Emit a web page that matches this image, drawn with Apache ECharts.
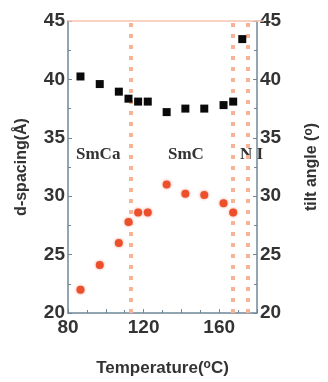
<!DOCTYPE html>
<html>
<head>
<meta charset="utf-8">
<script src="https://cdn.jsdelivr.net/npm/echarts@6/dist/echarts.min.js"></script>
<style>
  html, body { margin: 0; padding: 0; background: #fff; }
  #chart { width: 328px; height: 382px; }
</style>
</head>
<body>
<div id="chart"></div>
<script>
// temperatures (°C) of the measurements
var temps = [86.6, 96.8, 106.9, 112.0, 117.1, 122.2, 132.2, 142.1, 152.1, 162.3, 167.4, 172.2];
// d-spacing (Å), black squares
var dSpacing = [40.25, 39.6, 38.95, 38.35, 38.1, 38.1, 37.2, 37.5, 37.5, 37.8, 38.1, 43.45];
// tilt angle (°), red circles (no value in the last, isotropic point)
var tiltTemps = [86.6, 96.8, 106.9, 112.0, 117.1, 122.2, 132.2, 142.1, 152.1, 162.3, 167.4];
var tiltAngle = [22.0, 24.1, 26.0, 27.8, 28.6, 28.6, 31.0, 30.2, 30.1, 29.4, 28.6];
// phase boundaries
var transitions = [113.2, 167.4, 175.0];
var phases = [
  { name: 'SmCa', x: 76 },
  { name: 'SmC', x: 168 },
  { name: 'N I', x: 240 }
];

var axisColor = '#6f8797';
var labelFont = { color: '#333', fontSize: 19, fontWeight: 'bold', fontFamily: 'Liberation Sans' };

function pairs(xs, ys) {
  return xs.map(function (x, i) { return [x, ys[i]]; });
}

function yAxisOpt(name, pos, gap) {
  return {
    type: 'value',
    position: pos,
    min: 20,
    max: 45,
    interval: 5,
    name: name,
    nameLocation: 'middle',
    nameRotate: 90,
    nameGap: gap,
    nameTextStyle: {
      color: '#333', fontSize: 16, fontWeight: 'bold', fontFamily: 'Liberation Sans',
      rich: { sup: { fontSize: 12, fontWeight: 'bold', verticalAlign: 'top', padding: [0, 0, 6, 0], color: '#333' } }
    },
    axisLine: { show: true, lineStyle: { color: axisColor, width: 1.5 } },
    axisTick: { inside: true, length: 4, lineStyle: { color: axisColor } },
    minorTick: { show: true, splitNumber: 2, length: 3, lineStyle: { color: axisColor } },
    axisLabel: Object.assign({ margin: 3 }, labelFont),
    splitLine: { show: false }
  };
}

var chart = echarts.init(document.getElementById('chart'));
var option = {
  backgroundColor: '#fff',
  animation: false,
  grid: { left: 68, right: 64, top: 21, bottom: 68 },
  xAxis: {
    type: 'value',
    min: 80,
    max: 180,
    interval: 20,
    name: 'Temperature({sup|o}C)',
    nameLocation: 'middle',
    nameGap: 46,
    nameTextStyle: {
      color: '#333', fontSize: 17, fontWeight: 'bold', fontFamily: 'Liberation Sans',
      rich: { sup: { fontSize: 12, fontWeight: 'bold', verticalAlign: 'top', padding: [0, 0, 7, 0], color: '#333' } }
    },
    axisLine: { show: true, lineStyle: { color: axisColor, width: 1.5 } },
    axisTick: { inside: true, length: 4, lineStyle: { color: axisColor } },
    minorTick: { show: true, splitNumber: 2, length: 3, lineStyle: { color: axisColor } },
    axisLabel: Object.assign({
      margin: 5,
      formatter: function (v) { return (v - 80) % 40 === 0 && v < 180 ? String(v) : ''; }
    }, labelFont),
    splitLine: { show: false }
  },
  yAxis: [
    yAxisOpt('d-spacing(Å)', 'left', 38),
    yAxisOpt('tilt angle ({sup|o})', 'right', 46)
  ],
  graphic: [
    // light orange frame top
    { type: 'line', shape: { x1: 68, y1: 21, x2: 264, y2: 21 }, style: { stroke: '#f6c3ae', lineWidth: 1.5 }, z: 1 }
  ].concat(phases.map(function (p) {
    return {
      type: 'text', left: p.x, top: 146,
      style: { text: p.name, fill: '#333', font: 'bold 17px "Liberation Serif"' }
    };
  })),
  series: [
    {
      // holder for the dotted phase boundaries, drawn below the points
      name: 'boundaries',
      type: 'scatter',
      data: [],
      z: 1,
      markLine: {
        silent: true,
        z: 1,
        symbol: 'none',
        label: { show: false },
        lineStyle: { color: '#f8b296', width: 4, type: [4, 7], cap: 'butt', opacity: 1 },
        data: transitions.map(function (t) { return { xAxis: t }; })
      }
    },
    {
      name: 'd-spacing',
      type: 'scatter',
      yAxisIndex: 0,
      symbol: 'rect',
      symbolSize: 8,
      itemStyle: { color: '#0a0a0a', opacity: 1 },
      data: pairs(temps, dSpacing),
      z: 5
    },
    {
      name: 'tilt angle',
      type: 'scatter',
      yAxisIndex: 1,
      symbol: 'circle',
      symbolSize: 8,
      itemStyle: { color: '#ec4f2c', opacity: 1, shadowColor: 'rgba(236,79,44,0.6)', shadowBlur: 3 },
      data: pairs(tiltTemps, tiltAngle),
      z: 4
    }
  ]
};
chart.setOption(option);
</script>
</body>
</html>
